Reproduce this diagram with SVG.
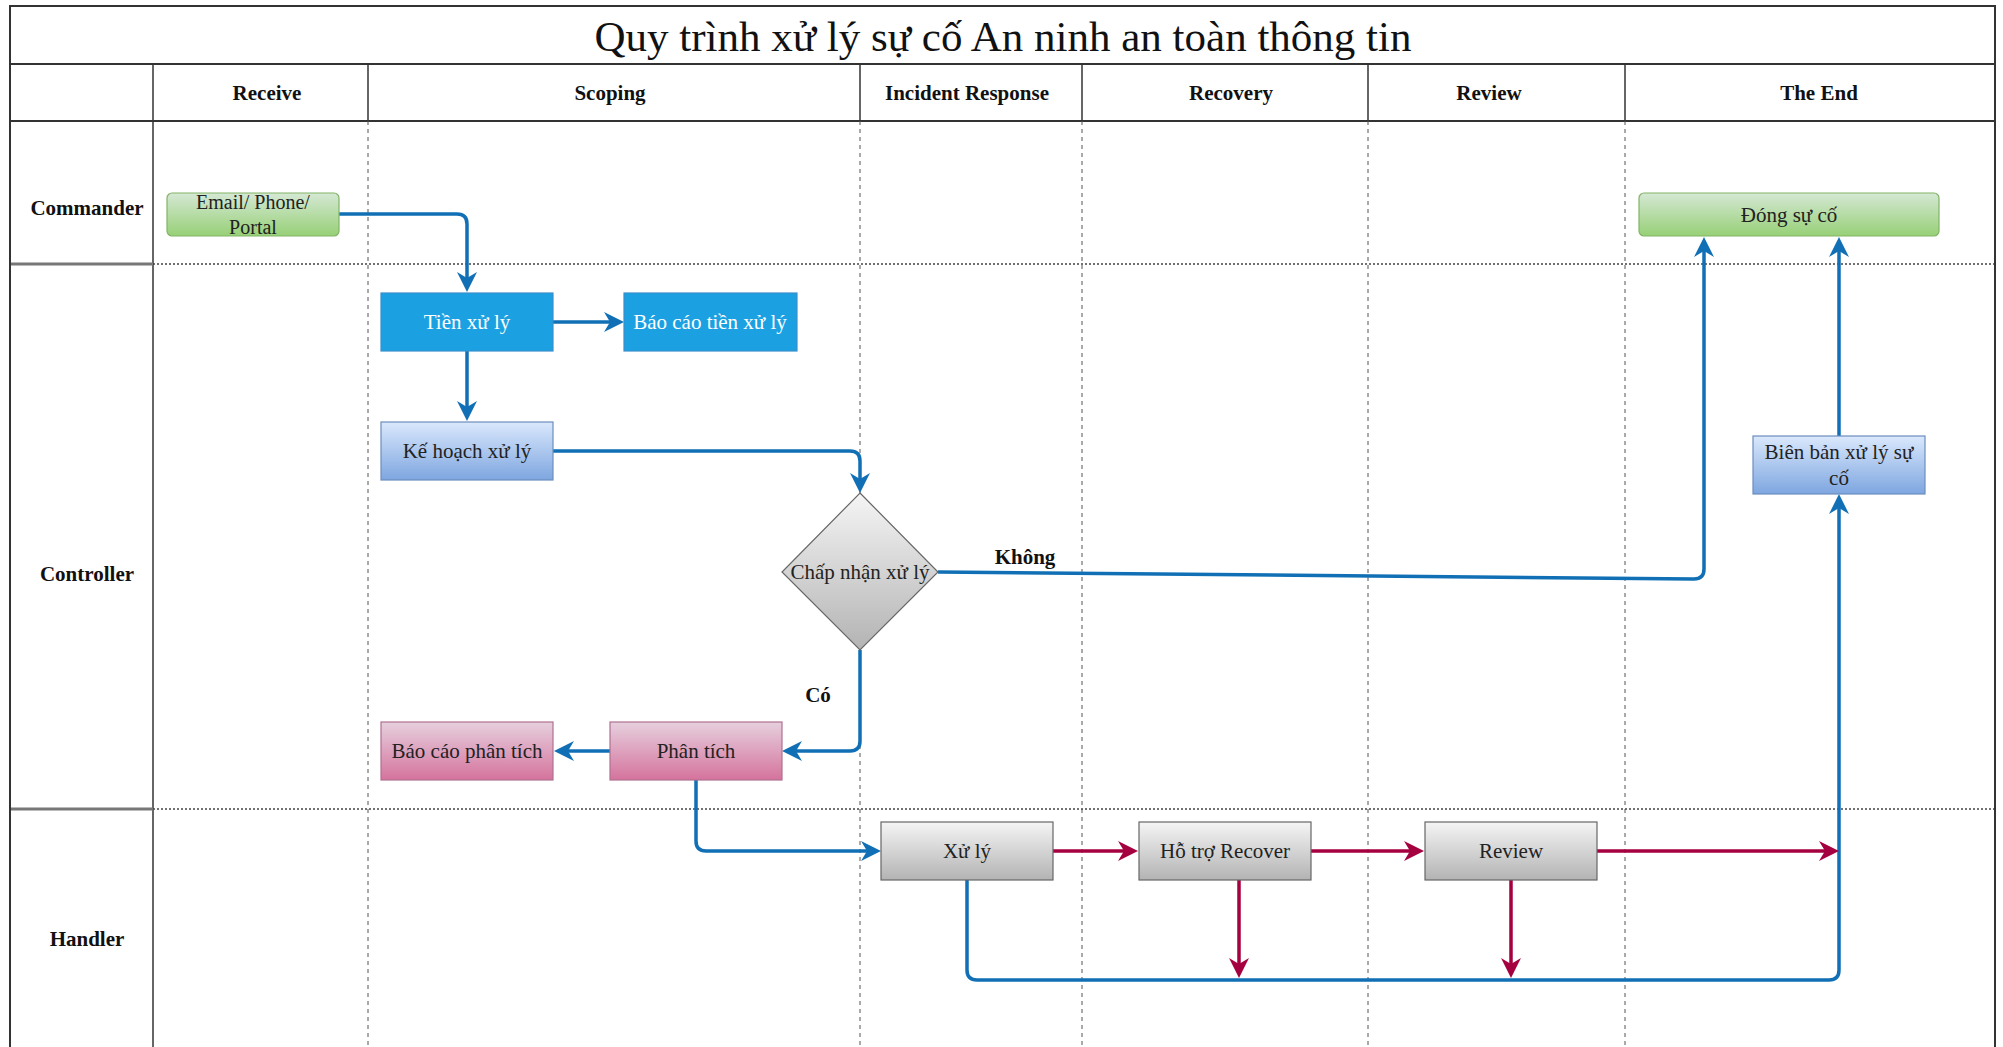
<svg xmlns="http://www.w3.org/2000/svg" width="2003" height="1047" viewBox="0 0 2003 1047">
<defs>
<style>
.frame{fill:none;stroke:#333;stroke-width:2}
.hdiv{stroke:#333;stroke-width:1.5}
.colv{stroke:#555;stroke-width:1;stroke-dasharray:4 4}
.laneh{stroke:#444;stroke-width:1.6;stroke-dasharray:2 2}
.lanehs{stroke:#777;stroke-width:3}
.title{font-family:"Liberation Serif","Times New Roman",serif;font-size:43px;fill:#111;text-anchor:middle}
.hdr{font-family:"Liberation Serif","Times New Roman",serif;font-size:21px;font-weight:bold;fill:#111;text-anchor:middle}
.lbl{font-family:"Liberation Serif","Times New Roman",serif;font-size:21px;fill:#222;text-anchor:middle}
.lblw{font-family:"Liberation Serif","Times New Roman",serif;font-size:21px;fill:#fff;text-anchor:middle}
.elab{font-family:"Liberation Serif","Times New Roman",serif;font-size:21px;font-weight:bold;fill:#111;text-anchor:middle}
.blue{fill:none;stroke:#1170b5;stroke-width:3.5;marker-end:url(#ab)}
.red{fill:none;stroke:#a50040;stroke-width:3.5;marker-end:url(#ar)}
.green{fill:url(#gGreen);stroke:#82b366;stroke-width:1.2}
.solid{fill:#1ba1e2;stroke:#3a8fcc;stroke-width:1.2}
.lblue{fill:url(#gBlue);stroke:#6c8ebf;stroke-width:1.2}
.pink{fill:url(#gPink);stroke:#b07090;stroke-width:1.2}
.gray{fill:url(#gGray);stroke:#666;stroke-width:1.2}
</style>
<linearGradient id="gGreen" x1="0" y1="0" x2="0" y2="1"><stop offset="0" stop-color="#d5e8d4"/><stop offset="1" stop-color="#97d077"/></linearGradient>
<linearGradient id="gBlue" x1="0" y1="0" x2="0" y2="1"><stop offset="0" stop-color="#dae8fc"/><stop offset="1" stop-color="#7ea6e0"/></linearGradient>
<linearGradient id="gPink" x1="0" y1="0" x2="0" y2="1"><stop offset="0" stop-color="#e6d0de"/><stop offset="1" stop-color="#d5739d"/></linearGradient>
<linearGradient id="gGray" x1="0" y1="0" x2="0" y2="1"><stop offset="0" stop-color="#f5f5f5"/><stop offset="1" stop-color="#b3b3b3"/></linearGradient>
<marker id="ab" viewBox="-12 -12 24 24" refX="0" refY="0" markerWidth="24" markerHeight="24" markerUnits="userSpaceOnUse" orient="auto"><path d="M10,0 L-10,-10 L-4,0 L-10,10 Z" fill="#1170b5"/></marker>
<marker id="ar" viewBox="-12 -12 24 24" refX="0" refY="0" markerWidth="24" markerHeight="24" markerUnits="userSpaceOnUse" orient="auto"><path d="M10,0 L-10,-10 L-4,0 L-10,10 Z" fill="#a50040"/></marker>
</defs>
<rect x="0" y="0" width="2003" height="1047" fill="#fff"/>

<g id="pool">
<path class="frame" d="M10,1047 V6 H1995 V1047"/>
<line class="frame" x1="10" y1="64" x2="1995" y2="64"/>
<line class="frame" x1="10" y1="121" x2="1995" y2="121"/>
<line class="hdiv" x1="153" y1="64" x2="153" y2="1047"/>
<line class="hdiv" x1="368" y1="64" x2="368" y2="121"/>
<line class="hdiv" x1="860" y1="64" x2="860" y2="121"/>
<line class="hdiv" x1="1082" y1="64" x2="1082" y2="121"/>
<line class="hdiv" x1="1368" y1="64" x2="1368" y2="121"/>
<line class="hdiv" x1="1625" y1="64" x2="1625" y2="121"/>
<line class="colv" x1="368" y1="121" x2="368" y2="1047"/>
<line class="colv" x1="860" y1="121" x2="860" y2="1047"/>
<line class="colv" x1="1082" y1="121" x2="1082" y2="1047"/>
<line class="colv" x1="1368" y1="121" x2="1368" y2="1047"/>
<line class="colv" x1="1625" y1="121" x2="1625" y2="1047"/>
<line class="lanehs" x1="11" y1="264" x2="153" y2="264"/>
<line class="laneh" x1="153" y1="264" x2="1994" y2="264"/>
<line class="lanehs" x1="11" y1="809" x2="153" y2="809"/>
<line class="laneh" x1="153" y1="809" x2="1994" y2="809"/>
<text class="title" x="1003" y="51">Quy trình xử lý sự cố An ninh an toàn thông tin</text>
<text class="hdr" x="267" y="100">Receive</text>
<text class="hdr" x="610" y="100">Scoping</text>
<text class="hdr" x="967" y="100">Incident Response</text>
<text class="hdr" x="1231" y="100">Recovery</text>
<text class="hdr" x="1489" y="100">Review</text>
<text class="hdr" x="1819" y="100">The End</text>
<text class="hdr" x="87" y="215">Commander</text>
<text class="hdr" x="87" y="581">Controller</text>
<text class="hdr" x="87" y="946">Handler</text>
</g>

<g id="connectors">
<path class="blue" d="M339,214 H457 Q467,214 467,224 V282"/>
<path class="blue" d="M553,322 H614"/>
<path class="blue" d="M467,351 V411"/>
<path class="blue" d="M553,451 H850 Q860,451 860,461 V483"/>
<path class="blue" d="M938,572 L1694,579 Q1704,579 1704,569 V247"/>
<path class="blue" d="M860,650 V741 Q860,751 850,751 H792"/>
<path class="blue" d="M610,751 H564"/>
<path class="blue" d="M696,780 V841 Q696,851 706,851 H871"/>
<path class="blue" d="M967,880 V970 Q967,980 977,980 H1829 Q1839,980 1839,970 V504"/>
<path class="blue" d="M1839,436 V247"/>
<path class="red" d="M1053,851 H1128"/>
<path class="red" d="M1311,851 H1414"/>
<path class="red" d="M1597,851 H1829"/>
<path class="red" d="M1239,880 V968"/>
<path class="red" d="M1511,880 V968"/>
<text class="elab" x="1025" y="564">Không</text>
<text class="elab" x="818" y="702">Có</text>
</g>

<g id="node-email">
<rect class="green" x="167" y="193" width="172" height="43" rx="5"/>
<text class="lbl" x="253" y="209" style="font-size:20px">Email/ Phone/</text>
<text class="lbl" x="253" y="234" style="font-size:20px">Portal</text>
</g>
<g id="node-dong">
<rect class="green" x="1639" y="193" width="300" height="43" rx="5"/>
<text class="lbl" x="1789" y="222">Đóng sự cố</text>
</g>
<g id="node-tien">
<rect class="solid" x="381" y="293" width="172" height="58"/>
<text class="lblw" x="467" y="329">Tiền xử lý</text>
</g>
<g id="node-bctien">
<rect class="solid" x="624" y="293" width="173" height="58"/>
<text class="lblw" x="710" y="329">Báo cáo tiền xử lý</text>
</g>
<g id="node-kehoach">
<rect class="lblue" x="381" y="422" width="172" height="58"/>
<text class="lbl" x="467" y="458">Kế hoạch xử lý</text>
</g>
<g id="node-chapnhan">
<polygon class="gray" points="860,493 938,572 860,650 782,572"/>
<text class="lbl" x="860" y="579">Chấp nhận xử lý</text>
</g>
<g id="node-phantich">
<rect class="pink" x="610" y="722" width="172" height="58"/>
<text class="lbl" x="696" y="758">Phân tích</text>
</g>
<g id="node-bcpt">
<rect class="pink" x="381" y="722" width="172" height="58"/>
<text class="lbl" x="467" y="758">Báo cáo phân tích</text>
</g>
<g id="node-xuly">
<rect class="gray" x="881" y="822" width="172" height="58"/>
<text class="lbl" x="967" y="858">Xử lý</text>
</g>
<g id="node-hotro">
<rect class="gray" x="1139" y="822" width="172" height="58"/>
<text class="lbl" x="1225" y="858">Hỗ trợ Recover</text>
</g>
<g id="node-review">
<rect class="gray" x="1425" y="822" width="172" height="58"/>
<text class="lbl" x="1511" y="858">Review</text>
</g>
<g id="node-bienban">
<rect class="lblue" x="1753" y="436" width="172" height="58"/>
<text class="lbl" x="1839" y="459">Biên bản xử lý sự</text>
<text class="lbl" x="1839" y="485">cố</text>
</g>
</svg>
